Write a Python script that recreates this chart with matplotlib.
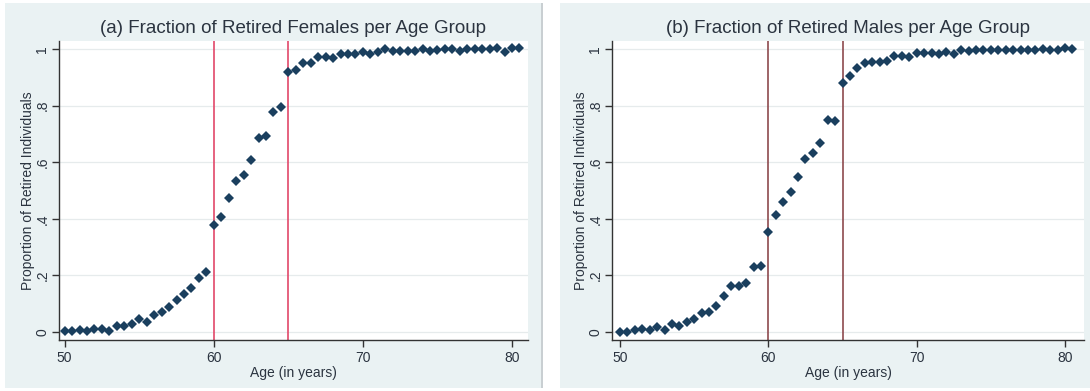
import matplotlib.pyplot as plt
import numpy as np
from matplotlib.patches import Rectangle

plt.rcParams['font.family'] = ['Liberation Sans', 'DejaVu Sans']

# age groups in half-year steps
age = np.arange(50, 81, 0.5)

# share retired, women
retired_f = [0.005, 0.005, 0.008, 0.005, 0.010, 0.012, 0.004, 0.022, 0.022, 0.030,
             0.045, 0.037, 0.060, 0.070, 0.090, 0.113, 0.133, 0.155, 0.190, 0.213,
             0.377, 0.405, 0.473, 0.534, 0.553, 0.609, 0.685, 0.693, 0.778, 0.795,
             0.918, 0.926, 0.950, 0.950, 0.970, 0.973, 0.968, 0.983, 0.983, 0.983,
             0.988, 0.983, 0.988, 0.999, 0.994, 0.994, 0.994, 0.994, 0.998, 0.994,
             0.996, 0.998, 0.998, 0.994, 0.998, 0.998, 0.998, 0.998, 1.002, 0.990,
             1.002, 1.002]

# share retired, men
retired_m = [0.000, 0.000, 0.007, 0.012, 0.007, 0.017, 0.007, 0.027, 0.021, 0.037,
             0.046, 0.066, 0.071, 0.091, 0.126, 0.162, 0.162, 0.172, 0.231, 0.234,
             0.354, 0.414, 0.461, 0.493, 0.549, 0.610, 0.634, 0.669, 0.750, 0.745,
             0.878, 0.906, 0.933, 0.951, 0.954, 0.954, 0.957, 0.975, 0.974, 0.972,
             0.986, 0.986, 0.986, 0.981, 0.990, 0.981, 0.995, 0.992, 0.995, 0.995,
             0.995, 0.995, 0.995, 0.995, 0.995, 0.995, 0.995, 1.000, 0.995, 0.995,
             1.003, 0.998]

titles = ["(a) Fraction of Retired Females per Age Group",
          "(b) Fraction of Retired Males per Age Group"]
cutoffs = [60, 65]
yticks = [0, 0.2, 0.4, 0.6, 0.8, 1]
ytick_labels = ["0", ".2", ".4", ".6", ".8", "1"]
xticks = [50, 60, 70, 80]

W, H = 1090, 391
fig = plt.figure(figsize=(W / 100, H / 100), dpi=100)
fig.patch.set_facecolor('white')

bg = '#EAF2F3'
navy = '#1A3F5E'
txt = '#2B3440'

# outer panel backgrounds (Stata style), kept behind the axes
for rect, col in [((5, 3, 537, 385), bg), ((541, 3, 1.5, 385), '#C9CFD2'),
                  ((560, 3, 530, 385), bg)]:
    x, y, w, h = rect
    fig.patches.append(Rectangle((x / W, y / H), w / W, h / H, transform=fig.transFigure,
                                 facecolor=col, edgecolor='none', zorder=-5))

panels = [
    dict(box=(59, 41, 528, 340), xlim=(49.62, 81.07), y=retired_f, vcol='#E2486A'),
    dict(box=(612, 41, 1084, 340), xlim=(49.46, 81.28), y=retired_m, vcol='#8E4A4E'),
]

for p, title in zip(panels, titles):
    x0, y0, x1, y1 = p['box']
    ax = fig.add_axes([x0 / W, (H - y1) / H, (x1 - x0) / W, (y1 - y0) / H])
    ax.set_facecolor('white')
    ax.set_xlim(*p['xlim'])
    ax.set_ylim(-0.028, 1.028)

    for yy in yticks:
        ax.axhline(yy, color='#E6EBEC', lw=0.9, zorder=1)
    for c in cutoffs:
        ax.axvline(c, color=p['vcol'], lw=1.2, zorder=2)

    ax.plot(age, p['y'], linestyle='none', marker='D', markersize=4.6,
            color=navy, markeredgewidth=0, zorder=3)

    for s in ['top', 'right']:
        ax.spines[s].set_visible(False)
    for s in ['left', 'bottom']:
        ax.spines[s].set_color('#333333')
        ax.spines[s].set_linewidth(1.0)

    ax.set_xticks(xticks)
    ax.set_xticklabels([str(t) for t in xticks])
    ax.set_yticks(yticks)
    ax.set_yticklabels(ytick_labels, rotation=90, va='center')
    ax.tick_params(axis='both', direction='out', length=5, width=1,
                   color='#333333', labelsize=10, labelcolor=txt, pad=3)
    ax.tick_params(axis='y', pad=2)

    ax.set_xlabel("Age (in years)", fontsize=10, color=txt, labelpad=0.5)
    ax.set_ylabel("Proportion of Retired Individuals", fontsize=10, color=txt, labelpad=0)
    ax.set_title(title, fontsize=13.5, color=txt, pad=6)

fig.savefig('out.png', dpi=100, facecolor=fig.get_facecolor())
